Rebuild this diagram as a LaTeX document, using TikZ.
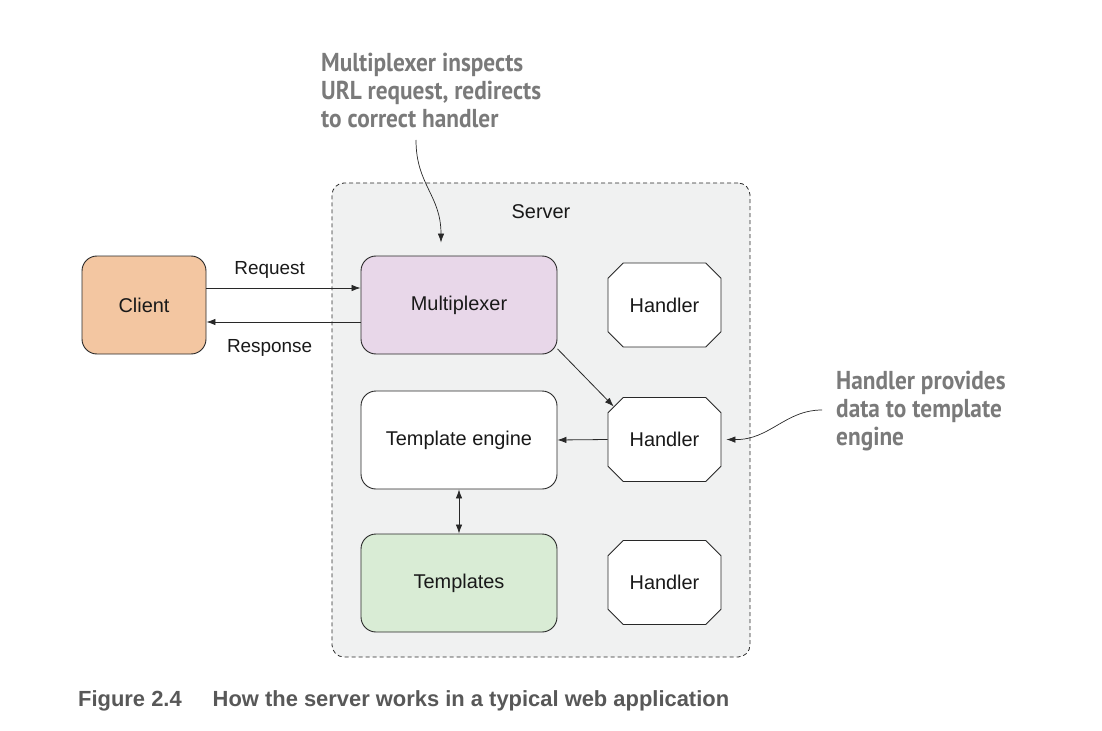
\documentclass[tikz,border=0pt]{standalone}
\usepackage{fontspec}
\setmainfont{Liberation Sans}
\newfontfamily\notefont[FakeStretch=0.9]{PT Sans}
\newfontfamily\capfont{Liberation Sans}
\usetikzlibrary{shapes.misc,arrows.meta}

\definecolor{clientfill}{RGB}{243,198,161}
\definecolor{muxfill}{RGB}{232,215,233}
\definecolor{tplfill}{RGB}{217,236,213}
\definecolor{serverfill}{RGB}{240,241,241}
\definecolor{linecol}{RGB}{40,40,40}
\definecolor{notecol}{RGB}{122,122,122}
\definecolor{capcol}{RGB}{88,88,88}

\tikzset{
	box/.style={shape=rectangle, rounded corners=15bp, draw=linecol, line width=0.9bp, minimum width=196bp, minimum height=98bp, font=\fontsize{20}{23}\selectfont, text=black!90},
	handlerbox/.style={shape=chamfered rectangle, chamfered rectangle xsep=9bp, chamfered rectangle ysep=8bp, draw=linecol, fill=white, line width=0.9bp, minimum width=113bp, minimum height=84bp, inner sep=0pt, font=\fontsize{20}{23}\selectfont, text=black!90},
	wire/.style={draw=linecol, line width=0.8bp, -{Latex[length=9bp,width=6.5bp]}},
	wirelabel/.style={font=\fontsize{19}{22}\selectfont, text=black!90},
	note/.style={anchor=north west, align=left, inner sep=0pt, text=notecol, font=\notefont\bfseries\fontsize{26}{28}\selectfont},
}

\begin{document}
\begin{tikzpicture}[x=1bp, y=-1bp]
	\useasboundingbox (0, 0) rectangle (1102, 731);
	% Server container
	\node[shape=rectangle, rounded corners=12bp, draw=linecol, fill=serverfill, line width=0.8bp, dash pattern={on 4bp off 3bp}, minimum width=418bp, minimum height=474bp] (server) at (541, 420){};
	\node[font=\fontsize{20}{23}\selectfont, text=black!90] (serverlabel) at (541, 212){Server};
	% Boxes:
	\node[box, fill=clientfill, minimum width=124bp] (client) at (144, 305){Client};
	\node[box, fill=muxfill] (mux) at (459, 305){Multiplexer};
	\node[box, fill=white] (engine) at (459, 440){Template engine};
	\node[box, fill=tplfill] (templates) at (459, 583){Templates};
	\node[handlerbox] (handlerA) at (664.5, 305){Handler};
	\node[handlerbox] (handlerB) at (664.5, 439.5){Handler};
	\node[handlerbox] (handlerC) at (664.5, 582.5){Handler};
	% Wires:
	\draw[wire] ([yshift=17bp]client.east) -- ([yshift=17bp]mux.west) node[pos=0.41, above=6bp, wirelabel] (reqlabel){Request};
	\draw[wire] ([yshift=-17bp]mux.west) -- ([yshift=-17bp]client.east) node[pos=0.59, below=14bp, wirelabel] (reslabel){Response};
	\draw[wire] (mux.-24) -- (handlerB.147);
	\draw[wire] (handlerB.west) -- (engine.east);
	\draw[wire, {Latex[length=9bp,width=6.5bp]}-{Latex[length=9bp,width=6.5bp]}] (engine.south) -- (templates.north);
	% Notes:
	\node[note] (noteMux) at (321, 53){Multiplexer inspects\\URL request, redirects\\to correct handler};
	\node[note] (noteHandler) at (836, 371){Handler provides\\data to template\\engine};
	\coordinate (noteMuxEnd) at (416, 140);
	\coordinate (noteHandlerEnd) at (822, 410);
	\draw[wire, line width=0.7bp] (noteMuxEnd) .. controls (416, 185) and (441, 195) .. ([xshift=-18bp, yshift=13bp]mux.north);
	\draw[wire, line width=0.7bp] (noteHandlerEnd) .. controls (785, 410) and (770, 440) .. ([xshift=5bp]handlerB.east);
	% Caption:
	\node[anchor=base west, inner sep=0pt, text=capcol, font=\capfont\bfseries\fontsize{22}{24}\selectfont] (caption) at (78, 706){Figure 2.4\hspace{31bp}How the server works in a typical web application};
\end{tikzpicture}
\end{document}
